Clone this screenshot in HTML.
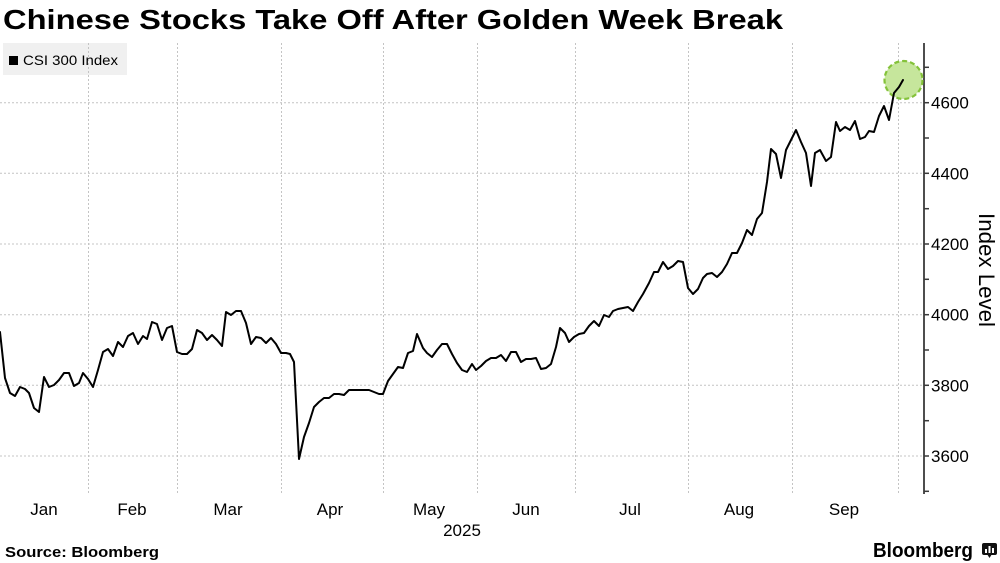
<!DOCTYPE html>
<html>
<head>
<meta charset="utf-8">
<style>
  html, body { margin: 0; padding: 0; background: #ffffff; }
  svg { display: block; }
  text { font-family: "Liberation Sans", Arial, sans-serif; fill: #000; }
</style>
</head>
<body>
<svg width="1000" height="563" viewBox="0 0 1000 563" xmlns="http://www.w3.org/2000/svg">
  <rect x="0" y="0" width="1000" height="563" fill="#ffffff"/>

  <!-- Title -->
  <text x="3" y="29" font-size="28" font-weight="bold" textLength="780" lengthAdjust="spacingAndGlyphs">Chinese Stocks Take Off After Golden Week Break</text>

  <!-- Legend box -->
  <rect x="3" y="43" width="124" height="32" fill="#f0f0f0"/>
  <rect x="9" y="56" width="9" height="9" fill="#000"/>
  <text x="23" y="65" font-size="14" textLength="95" lengthAdjust="spacingAndGlyphs">CSI 300 Index</text>

  <!-- Horizontal gridlines -->
  <g stroke="#c4c4c4" stroke-width="1" stroke-dasharray="2,2">
    <line x1="0" y1="102.7" x2="924" y2="102.7"/>
    <line x1="0" y1="173.3" x2="924" y2="173.3"/>
    <line x1="0" y1="244" x2="924" y2="244"/>
    <line x1="0" y1="314.7" x2="924" y2="314.7"/>
    <line x1="0" y1="385.3" x2="924" y2="385.3"/>
    <line x1="0" y1="456" x2="924" y2="456"/>
  </g>
  <!-- Vertical gridlines -->
  <g stroke="#c4c4c4" stroke-width="1" stroke-dasharray="2,2">
    <line x1="88.5" y1="43" x2="88.5" y2="494"/>
    <line x1="177.5" y1="43" x2="177.5" y2="494"/>
    <line x1="281.5" y1="43" x2="281.5" y2="494"/>
    <line x1="383.5" y1="43" x2="383.5" y2="494"/>
    <line x1="477.5" y1="43" x2="477.5" y2="494"/>
    <line x1="575.5" y1="43" x2="575.5" y2="494"/>
    <line x1="688.5" y1="43" x2="688.5" y2="494"/>
    <line x1="792.5" y1="43" x2="792.5" y2="494"/>
    <line x1="898.5" y1="43" x2="898.5" y2="494"/>
  </g>

  <!-- Right axis -->
  <line x1="924" y1="43" x2="924" y2="494" stroke="#3a3a3a" stroke-width="1.8"/>
  <g stroke="#3a3a3a" stroke-width="1.5">
    <line x1="924" y1="67.3" x2="929" y2="67.3"/>
    <line x1="924" y1="102.7" x2="929" y2="102.7"/>
    <line x1="924" y1="138" x2="929" y2="138"/>
    <line x1="924" y1="173.3" x2="929" y2="173.3"/>
    <line x1="924" y1="208.7" x2="929" y2="208.7"/>
    <line x1="924" y1="244" x2="929" y2="244"/>
    <line x1="924" y1="279.3" x2="929" y2="279.3"/>
    <line x1="924" y1="314.7" x2="929" y2="314.7"/>
    <line x1="924" y1="350" x2="929" y2="350"/>
    <line x1="924" y1="385.3" x2="929" y2="385.3"/>
    <line x1="924" y1="420.7" x2="929" y2="420.7"/>
    <line x1="924" y1="456" x2="929" y2="456"/>
    <line x1="924" y1="491.3" x2="929" y2="491.3"/>
  </g>
  <g font-size="17">
    <text x="931" y="108.7">4600</text>
    <text x="931" y="179.3">4400</text>
    <text x="931" y="250">4200</text>
    <text x="931" y="320.7">4000</text>
    <text x="931" y="391.3">3800</text>
    <text x="931" y="462">3600</text>
  </g>
  <text transform="translate(979,270) rotate(90)" text-anchor="middle" font-size="22" textLength="114" lengthAdjust="spacingAndGlyphs">Index Level</text>

  <!-- Month labels -->
  <g font-size="17" text-anchor="middle">
    <text x="44" y="515">Jan</text>
    <text x="132" y="515">Feb</text>
    <text x="228" y="515">Mar</text>
    <text x="330" y="515">Apr</text>
    <text x="429" y="515">May</text>
    <text x="526" y="515">Jun</text>
    <text x="630" y="515">Jul</text>
    <text x="739" y="515">Aug</text>
    <text x="844" y="515">Sep</text>
    <text x="462" y="536">2025</text>
  </g>

  <!-- Highlight circle -->
  <circle cx="903.5" cy="80" r="19" fill="#c6e69c" stroke="#84c23a" stroke-width="2.2" stroke-dasharray="5,3"/>

  <!-- Data line -->
  <polyline fill="none" stroke="#000" stroke-width="2" stroke-linejoin="round" stroke-linecap="round"
    points="0,332 5,378 10,393 15,396 20,387 25,389 29,393 34,408 39,412 44,377 49,387 54,385 59,380 64,373 69,373 74,386 79,383 83,373 88,379 93,387 98,370 103,352 108,349 113,356 118,342 123,347 128,336 133,333 138,344 143,336 147,339 152,322 157,324 162,340 167,328 172,326 177,352 182,354 187,354 192,349 197,330 202,333 207,340 212,335 217,340 222,346 226,312 231,315 236,311 241,311 246,323 251,344 256,337 261,338 266,343 271,338 276,344 281,353 286,353 290,354 294,362 299,459 304,437 309,423 314,407 319,402 324,398 329,398 334,394 339,394 344,395 349,390 354,390 359,390 364,390 369,390 374,392 379,394 383,394 388,381 393,374 398,367 403,368 408,353 413,351 417,334 423,348 427,353 432,357 437,350 442,344 447,344 452,354 457,363 462,370 467,372 472,364 476,370 481,366 486,361 491,358 496,358 501,355 506,361 511,352 516,352 521,362 526,359 531,359 536,358 541,369 546,368 551,364 556,347 560,328 565,333 569,342 574,337 579,334 584,333 589,326 594,321 599,326 604,315 609,317 613,311 618,309 623,308 628,307 633,311 638,302 643,294 649,283 654,272 658,272 663,262 668,269 673,266 678,261 683,262 688,288 693,294 698,289 703,278 707,274 712,273 717,277 722,272 727,264 732,253 737,253 742,243 747,230 752,235 757,219 762,213 767,182 771,149 776,154 781,178 786,150 791,140 796,130 801,142 806,153 811,186 815,153 820,150 826,161 831,157 836,122 840,131 845,127 850,130 855,121 860,139 865,137 869,131 874,132 879,116 884,106 889,120 894,93 899,87 903,80"/>

  <!-- Footer -->
  <text x="5" y="557" font-size="15" font-weight="bold" textLength="154" lengthAdjust="spacingAndGlyphs">Source: Bloomberg</text>
  <text x="873" y="557" font-size="20" font-weight="bold" textLength="100" lengthAdjust="spacingAndGlyphs">Bloomberg</text>
  <!-- Bloomberg icon -->
  <rect x="982" y="543" width="15" height="12" rx="2" fill="#111"/>
  <polygon points="987,554 992,554 989.5,558" fill="#111"/>
  <g fill="#fff">
    <rect x="985" y="549" width="2" height="4"/>
    <rect x="988.5" y="546" width="2" height="7"/>
    <rect x="992" y="548" width="2" height="5"/>
  </g>
</svg>
</body>
</html>
